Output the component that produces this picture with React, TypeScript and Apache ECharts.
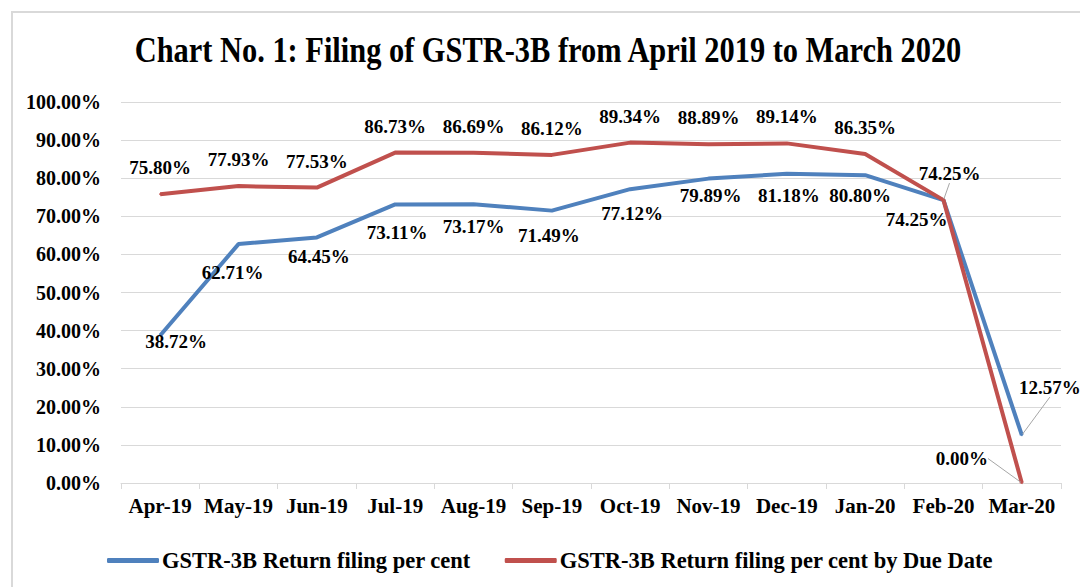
import React, { useEffect, useRef } from "react";
import * as echarts from "echarts";

const categories = ["Apr-19", "May-19", "Jun-19", "Jul-19", "Aug-19", "Sep-19", "Oct-19", "Nov-19", "Dec-19", "Jan-20", "Feb-20", "Mar-20"];
const filingPct = [38.72, 62.71, 64.45, 73.11, 73.17, 71.49, 77.12, 79.89, 81.18, 80.8, 74.25, 12.57];
const filingByDuePct = [75.8, 77.93, 77.53, 86.73, 86.69, 86.12, 89.34, 88.89, 89.14, 86.35, 74.25, 0.0];
const seriesNames = ["GSTR-3B Return filing per cent", "GSTR-3B Return filing per cent by Due Date"];
const titleText = "Chart No. 1: Filing of GSTR-3B from April 2019 to March 2020";

const FONT = "Liberation Serif";
const BLUE = "#4F81BD";
const RED = "#C0504D";
const GRID = "#D9D9D9";

// label nudges (seriesIndex-dataIndex) and which get leader lines
const labelMoves: Record<string, { dx: number; dy: number }> = {
  "0-0": { dx: 16, dy: -16 },
  "0-1": { dx: -6, dy: 6 },
  "0-2": { dx: 2, dy: -3 },
  "0-3": { dx: 2, dy: 6 },
  "0-5": { dx: -3, dy: 2 },
  "0-6": { dx: 2, dy: 2 },
  "0-7": { dx: 2, dy: -6 },
  "0-8": { dx: 2, dy: -1 },
  "0-9": { dx: -5, dy: -2 },
  "0-10": { dx: -27, dy: -3 },
  "0-11": { dx: 28, dy: -70 },
  "1-10": { dx: 6, dy: 0 },
  "1-11": { dx: -60, dy: 2 },
};
const leaderKeys = ["0-11", "1-10", "1-11"];

export default function App() {
  const ref = useRef<HTMLDivElement>(null);
  useEffect(() => {
    if (!ref.current) return;
    const chart = echarts.init(ref.current, undefined, { renderer: "svg" });
    const mkData = (vals: number[], si: number) =>
      vals.map((v, i) => {
        const key = `${si}-${i}`;
        if (leaderKeys.includes(key)) {
          return { value: v, labelLine: { show: true, lineStyle: { color: "#A6A6A6", width: 1 } } };
        }
        return { value: v };
      });
    const labelStyle = {
      show: true,
      fontFamily: FONT,
      fontWeight: "bold" as const,
      fontSize: 19,
      color: "#000",
      formatter: (p: any) => `${Number(p.value).toFixed(2)}%`,
    };
    chart.setOption({
      animation: false,
      backgroundColor: "#fff",
      textStyle: { fontFamily: FONT },
      graphic: [
        {
          type: "rect",
          shape: { x: 12, y: 12, width: 1100, height: 600 },
          style: { fill: "none", stroke: GRID, lineWidth: 2 },
          silent: true,
          z: -1,
        },
        {
          type: "text",
          x: 548,
          y: 50,
          scaleX: 0.845,
          silent: true,
          style: {
            text: titleText,
            fontFamily: FONT,
            fontWeight: "bold",
            fontSize: 36,
            fill: "#000",
            textAlign: "center",
            textVerticalAlign: "middle",
          },
        },
      ],
      legend: {
        left: 102,
        top: 544,
        itemGap: 34,
        itemWidth: 52,
        itemHeight: 5,
        icon: "roundRect",
        textStyle: { fontFamily: FONT, fontWeight: "bold", fontSize: 22.5, color: "#000", padding: [0, 0, 0, -2] },
        data: seriesNames,
      },
      grid: { left: 121, right: 19, top: 102, bottom: 104 },
      xAxis: {
        type: "category",
        data: categories,
        boundaryGap: true,
        axisLine: { lineStyle: { color: GRID, width: 1 } },
        axisTick: { show: true, interval: 0, length: 6, lineStyle: { color: GRID } },
        axisLabel: {
          interval: 0,
          hideOverlap: false,
          fontFamily: FONT,
          fontWeight: "bold",
          fontSize: 21,
          color: "#000",
          margin: 12,
        },
      },
      yAxis: {
        type: "value",
        min: 0,
        max: 100,
        interval: 10,
        axisLine: { show: false },
        axisTick: { show: false },
        splitLine: { lineStyle: { color: GRID, width: 1 } },
        axisLabel: {
          fontFamily: FONT,
          fontWeight: "bold",
          fontSize: 20,
          color: "#000",
          margin: 20,
          formatter: (v: number) => `${v.toFixed(2)}%`,
        },
      },
      labelLayout: (params: any) => {
        const m = labelMoves[`${params.seriesIndex}-${params.dataIndex}`];
        return m ? { dx: m.dx, dy: m.dy } : {};
      },
      series: [
        {
          name: seriesNames[0],
          type: "line",
          data: mkData(filingPct, 0),
          symbol: "circle",
          symbolSize: 2,
          itemStyle: { color: BLUE },
          lineStyle: { color: BLUE, width: 4 },
          label: { ...labelStyle, position: "bottom", distance: 12, offset: [6, 0] },
          labelLine: { show: false },
          z: 2,
        },
        {
          name: seriesNames[1],
          type: "line",
          data: mkData(filingByDuePct, 1),
          symbol: "circle",
          symbolSize: 2,
          itemStyle: { color: RED },
          lineStyle: { color: RED, width: 4 },
          label: { ...labelStyle, position: "top", distance: 16 },
          labelLine: { show: false },
          z: 3,
        },
      ],
    });
    return () => chart.dispose();
  }, []);
  return <div ref={ref} style={{ position: "fixed", left: 0, top: 0, width: 1080, height: 587 }} />;
}
